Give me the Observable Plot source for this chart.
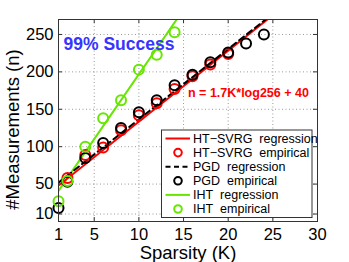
<!DOCTYPE html>
<html><head><meta charset="utf-8">
<script src="https://cdn.jsdelivr.net/npm/d3@7"></script>
<script src="https://cdn.jsdelivr.net/npm/@observablehq/plot@0.6"></script>
<style>
html,body{margin:0;padding:0;background:#fff;}
#chart{position:relative;width:349px;height:262px;}
</style></head>
<body><div id="chart"></div>
<script>
// ---- data ----
const xTicks = [1, 5, 10, 15, 20, 25, 30];
const yTicks = [10, 50, 100, 150, 200, 250];

const pgdK   = [1, 2, 4, 6, 8, 10, 12, 14, 16, 18, 20, 22, 24];
const pgdEmp = [18, 53, 85, 105, 125, 146, 162, 182, 196, 213, 226, 238, 250];
const htK    = [2, 4, 6, 8, 10, 12, 14, 16, 18, 20];
const htEmp  = [58, 89, 99, 122, 142, 158, 177, 194, 210, 224];
const ihtK   = [1, 2, 4, 6, 8, 10, 12, 14];
const ihtEmp = [27, 54, 100, 138, 162, 203, 223, 253];

const htRegK  = [1, 24.5],  htRegN  = [48, 271];
const pgdRegK = [1, 24.4],  pgdRegN = [52, 272];
const ihtRegK = [1, 14.4],  ihtRegN = [41, 273];

const legendLabels = ["HT\u2212SVRG\u00a0 regression", "HT\u2212SVRG\u00a0 empirical", "PGD\u00a0 regression", "PGD\u00a0 empirical", "IHT\u00a0 regression", "IHT\u00a0 empirical"];
const annoSuccess = "99% Success";
const annoFormula = "n = 1.7K*log256 + 40";
const xLabel = "Sparsity (K)";
const yLabel = "#Measurements (n)";

// ---- colours ----
const RED = "#ff0000", BLACK = "#000000", GREEN = "#66e600";

const zip = (a, b) => a.map((v, i) => ({x: v, y: b[i]}));
const W = 349, H = 262, mL = 58, mR = 32, mT = 19, mB = 41;
const pH = H - mT - mB, pW = W - mL - mR;
const FONT = "'Liberation Sans', Arial, Helvetica, sans-serif";

const plot = Plot.plot({
  width: W, height: H,
  marginLeft: mL, marginRight: mR, marginTop: mT, marginBottom: mB,
  style: {fontFamily: FONT, background: "white", color: "#000"},
  x: {domain: [1, 30], ticks: xTicks},
  y: {domain: [0, 270], ticks: yTicks},
  marks: [
    Plot.gridX(xTicks, {stroke: "#999", strokeOpacity: 1, strokeDasharray: "1,2.5", strokeWidth: 1}),
    Plot.gridY(yTicks, {stroke: "#999", strokeOpacity: 1, strokeDasharray: "1,2.5", strokeWidth: 1}),
    // inward ticks
    Plot.tickX(xTicks, {x: d => d, insetTop: pH - 4, stroke: "#333"}),
    Plot.tickX(xTicks, {x: d => d, insetBottom: pH - 4, stroke: "#333"}),
    Plot.tickY(yTicks, {y: d => d, insetRight: pW - 4, stroke: "#333"}),
    Plot.tickY(yTicks, {y: d => d, insetLeft: pW - 4, stroke: "#333"}),
    Plot.axisX({ticks: xTicks, tickSize: 0, tickPadding: 7, fontSize: 16.5, label: null}),
    Plot.axisY({ticks: yTicks, tickSize: 0, tickPadding: 5, fontSize: 16.5, label: null}),
    Plot.line(zip(ihtRegK, ihtRegN), {x: "x", y: "y", stroke: GREEN, strokeWidth: 2, clip: true}),
    Plot.line(zip(htRegK, htRegN), {x: "x", y: "y", stroke: RED, strokeWidth: 2, clip: true}),
    Plot.line(zip(pgdRegK, pgdRegN), {x: "x", y: "y", stroke: BLACK, strokeWidth: 2, strokeDasharray: "6,4", clip: true}),
    Plot.dot(zip(htK, htEmp), {x: "x", y: "y", r: 5, stroke: RED, strokeWidth: 2}),
    Plot.dot(zip(pgdK, pgdEmp), {x: "x", y: "y", r: 5, stroke: BLACK, strokeWidth: 2}),
    Plot.dot(zip(ihtK, ihtEmp), {x: "x", y: "y", r: 5, stroke: GREEN, strokeWidth: 2}),
    Plot.frame({stroke: "#333", strokeWidth: 1}),
    Plot.text([annoSuccess], {frameAnchor: "top-left", dx: 5, dy: 24.5, text: d => d, textAnchor: "start", lineAnchor: "middle", fill: "#3535ff", fontWeight: "bold", fontSize: 17.5}),
    Plot.text([annoFormula], {frameAnchor: "top-left", dx: 129.5, dy: 73.5, text: d => d, textAnchor: "start", lineAnchor: "middle", fill: RED, fontWeight: "bold", fontSize: 12.5}),
    Plot.text([xLabel], {frameAnchor: "bottom", dx: 0, dy: 32, text: d => d, lineAnchor: "middle", fontSize: 18.5, fill: "#000"})
  ]
});
document.getElementById("chart").appendChild(plot);

const svg = d3.select(plot);
// y axis label
svg.append("text")
  .attr("transform", "translate(13,129.5) rotate(-90)")
  .attr("text-anchor", "middle").attr("dy", "0.35em")
  .attr("font-family", FONT).attr("font-size", 18.5)
  .style("fill", "#000")
  .text(yLabel);

// ---- legend (inside the axes, lower right) ----
const lg = svg.append("g").attr("font-family", FONT).attr("text-anchor", "start");
const box = {x: 161.5, y: 130, w: 150.5, h: 87.5};
lg.append("rect").attr("x", box.x).attr("y", box.y).attr("width", box.w).attr("height", box.h)
  .style("fill", "#fff").style("stroke", "#333").style("stroke-width", 1);
const entries = [
  {c: RED, t: "line"}, {c: RED, t: "dot"},
  {c: BLACK, t: "dash"}, {c: BLACK, t: "dot"},
  {c: GREEN, t: "line"}, {c: GREEN, t: "dot"}
];
entries.forEach((e, i) => {
  const cy = box.y + 8.5 + i * 14.1;
  if (e.t === "dot") {
    lg.append("circle").attr("cx", box.x + 16.5).attr("cy", cy).attr("r", 3.8)
      .style("fill", "none").style("stroke", e.c).style("stroke-width", 2);
  } else {
    const l = lg.append("line").attr("x1", box.x + 4).attr("x2", box.x + 28.5).attr("y1", cy).attr("y2", cy)
      .style("stroke", e.c).style("stroke-width", 2);
    if (e.t === "dash") l.style("stroke-dasharray", "5,3.5");
  }
  lg.append("text").attr("x", box.x + 31.5).attr("y", cy).attr("dy", "0.35em")
    .attr("text-anchor", "start")
    .attr("font-size", 12.5).style("fill", "#000").style("white-space", "pre").text(legendLabels[i]);
});
</script></body></html>
